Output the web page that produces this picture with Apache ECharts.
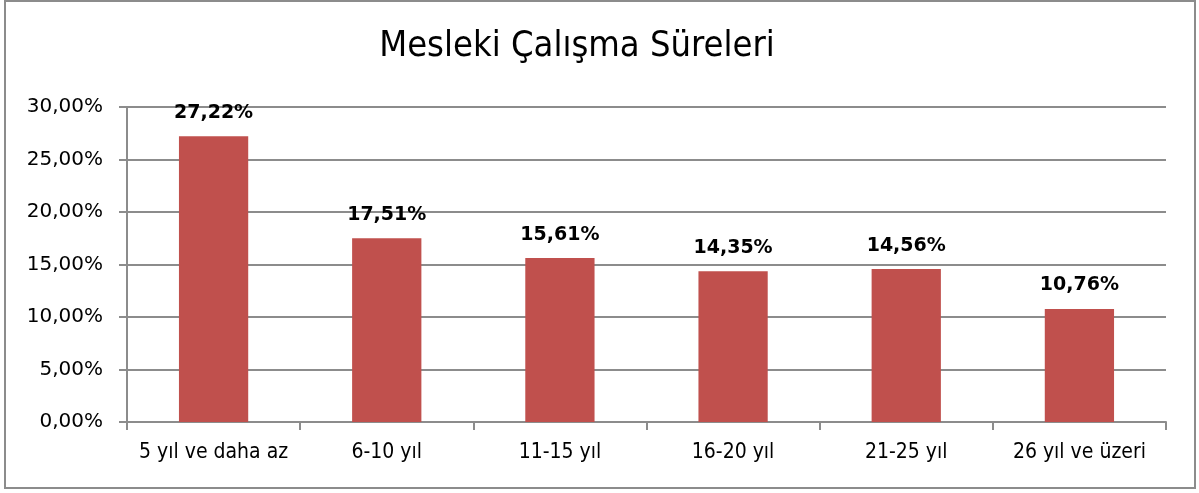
<!DOCTYPE html>
<html>
<head>
<meta charset="utf-8">
<script src="https://cdn.jsdelivr.net/npm/echarts@6/dist/echarts.min.js"></script>
<style>
  html, body { margin: 0; padding: 0; background: #fff; }
  #chart { width: 1199px; height: 493px; }
</style>
</head>
<body>
<div id="chart"></div>
<script>
const kategoriler = ['5 yıl ve daha az', '6-10 yıl', '11-15 yıl', '16-20 yıl', '21-25 yıl', '26 yıl ve üzeri'];
const oranlar = [27.22, 17.51, 15.61, 14.35, 14.56, 10.76];
const baslik = 'Mesleki Çalışma Süreleri';

const chart = echarts.init(document.getElementById('chart'));

// Excel tarzı yüzde: virgüllü iki basamak
function yuzde(v) {
    return v.toFixed(2).replace('.', ',') + '%';
}

const darFont = '"Liberation Sans Narrow", "DejaVu Sans Condensed", sans-serif';

const option = {
    backgroundColor: '#fff',
    graphic: [{
        type: 'rect',
        shape: { x: 5, y: 1, width: 1190, height: 487 },
        style: { fill: 'none', stroke: '#8c8c8c', lineWidth: 2 },
        silent: true
    }],
    title: {
        text: baslik,
        left: 572,
        top: 24,
        textAlign: 'center',
        textStyle: {
            fontFamily: darFont,
            fontSize: 36,
            fontWeight: 500,
            color: '#000'
        }
    },
    grid: { left: 127, right: 33, top: 107, bottom: 71 },
    xAxis: {
        type: 'category',
        data: kategoriler,
        axisLine: { lineStyle: { color: '#8c8c8c', width: 2 } },
        axisTick: { show: true, interval: 0, alignWithLabel: false, length: 8, lineStyle: { color: '#8c8c8c', width: 2 } },
        axisLabel: {
            interval: 0,
            margin: 20,
            fontFamily: darFont,
            fontSize: 21,
            color: '#000'
        }
    },
    yAxis: {
        type: 'value',
        min: 0,
        max: 30,
        interval: 5,
        axisLine: { show: true, lineStyle: { color: '#8c8c8c', width: 2 } },
        axisTick: { show: true, length: 8, lineStyle: { color: '#8c8c8c', width: 2 } },
        splitLine: { lineStyle: { color: '#8c8c8c', width: 2 } },
        axisLabel: {
            margin: 24,
            fontFamily: 'Tahoma, "DejaVu Sans", sans-serif',
            fontSize: 20,
            color: '#000',
            formatter: yuzde
        }
    },
    series: [{
        type: 'bar',
        data: oranlar,
        barWidth: '40%',
        itemStyle: { color: '#C0504D' },
        label: {
            show: true,
            position: 'top',
            distance: 14,
            fontFamily: 'Tahoma, "DejaVu Sans", sans-serif',
            fontSize: 19,
            fontWeight: 'bold',
            color: '#000',
            formatter: p => yuzde(p.value)
        }
    }]
};

chart.setOption(option);
</script>
</body>
</html>
